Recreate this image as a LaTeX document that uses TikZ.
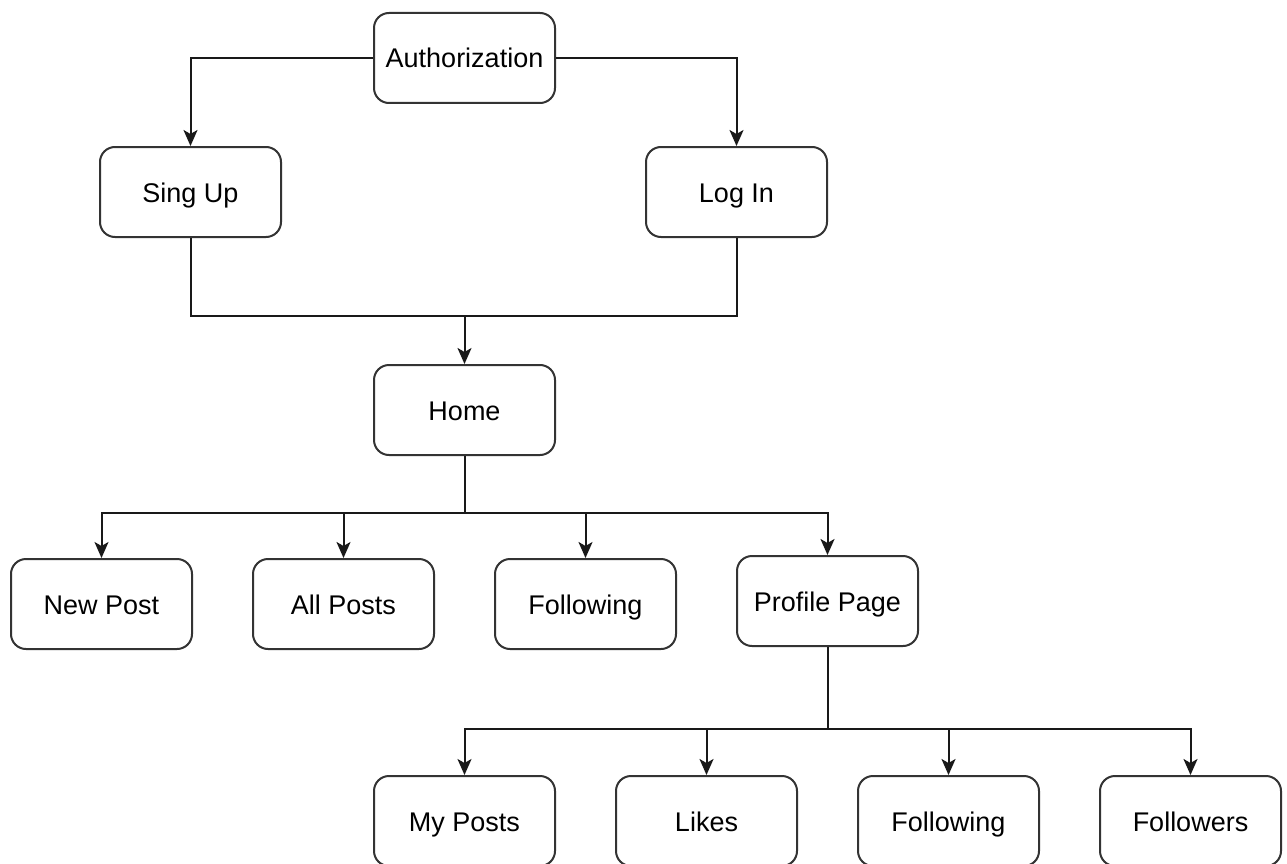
\documentclass[tikz,border=0pt]{standalone}
\usepackage{fontspec}
\setmainfont{Liberation Sans}
\usetikzlibrary{arrows.meta}
\begin{document}
\begin{tikzpicture}[x=1pt,y=-1pt,
  box/.style={draw=black!80,line width=2pt,rounded corners=15pt,minimum width=181pt,minimum height=90pt,inner sep=0pt,text height=23pt,text depth=3pt,font=\fontsize{27}{32}\selectfont,fill=white},
  conn/.style={line width=2pt,draw=black!90},
  arr/.style={conn,-{Stealth[length=16pt,width=14pt,inset=4pt]}}]
\useasboundingbox (0,0) rectangle (1287,864);
\node[box] (auth) at (464.5,58) {Authorization};
\node[box] (signup) at (190.5,192) {Sing Up};
\node[box] (login) at (736.5,192) {Log In};
\node[box] (home) at (464.5,410) {Home};
\node[box] (newpost) at (101.5,604) {New Post};
\node[box] (allposts) at (343.5,604) {All Posts};
\node[box] (following) at (585.5,604) {Following};
\node[box] (profile) at (827.5,601) {Profile Page};
\node[box] (myposts) at (464.5,821) {My Posts};
\node[box] (likes) at (706.5,821) {Likes};
\node[box] (pfollowing) at (948.5,821) {Following};
\node[box] (followers) at (1190.5,821) {Followers};
\coordinate (j1) at (464.5,316);
\coordinate (j2) at (464.5,513);
\coordinate (j3) at (827.5,729);
% top
\draw[arr] (auth.west) -| (signup.north);
\draw[arr] (auth.east) -| (login.north);
\draw[conn] (signup.south) |- (j1);
\draw[conn] (login.south) |- (j1);
\draw[arr] (j1) -- (home.north);
% home children
\draw[conn] (home.south) -- (j2);
\draw[arr] (j2) -| (newpost.north);
\draw[arr] (j2) -| (allposts.north);
\draw[arr] (j2) -| (following.north);
\draw[arr] (j2) -| (profile.north);
% profile children
\draw[conn] (profile.south) -- (j3);
\draw[arr] (j3) -| (myposts.north);
\draw[arr] (j3) -| (likes.north);
\draw[arr] (j3) -| (pfollowing.north);
\draw[arr] (j3) -| (followers.north);
\end{tikzpicture}
\end{document}
